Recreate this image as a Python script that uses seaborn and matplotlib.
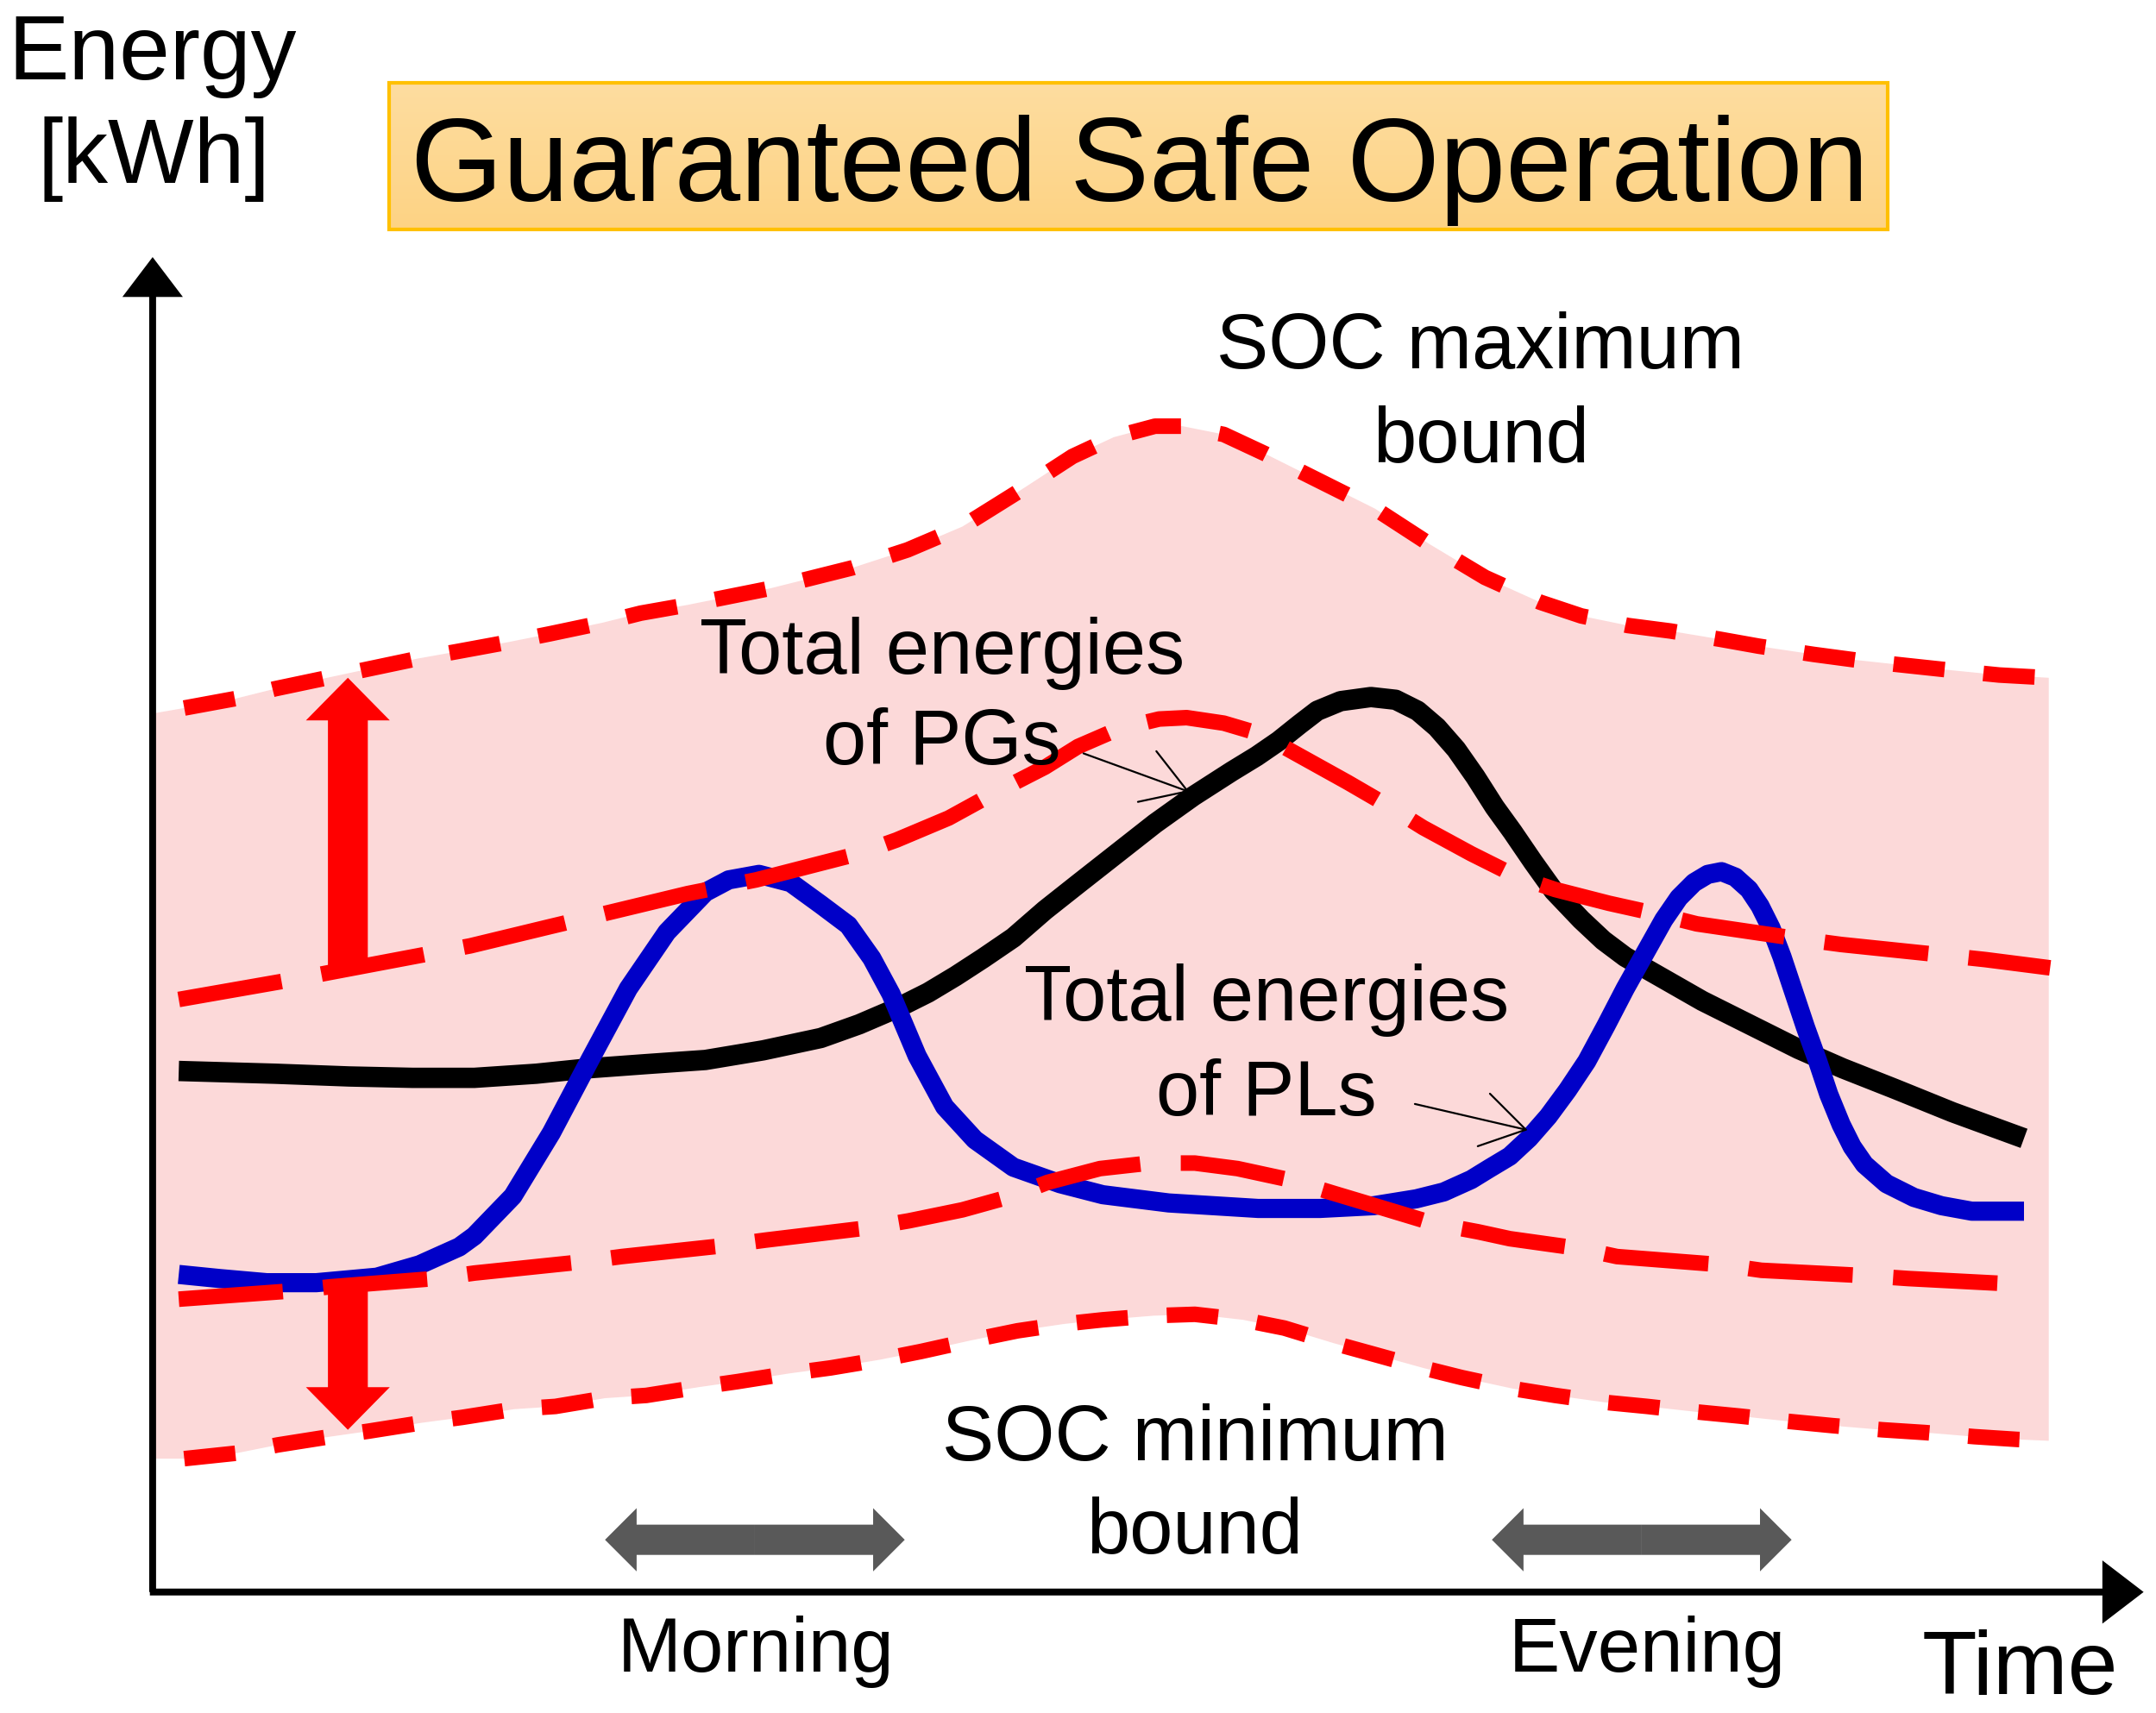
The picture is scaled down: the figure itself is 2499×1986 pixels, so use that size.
import numpy as np
import matplotlib
matplotlib.use("Agg")
import matplotlib.pyplot as plt
from matplotlib.patches import FancyArrow, Rectangle, Polygon
from matplotlib.colors import to_rgb
import seaborn as sns

# SOC maximum bound (upper edge of the safe band)
soc_max_x = [111, 134, 172, 200, 238, 266, 304, 332, 370, 400, 438, 466, 500, 560, 620, 660,
             700, 740, 780, 810, 840, 860, 890, 920, 960, 1000, 1040, 1080, 1120, 1150, 1184,
             1215, 1251, 1279, 1319, 1349, 1386, 1414, 1454, 1490]
soc_max_y = [519, 515, 508, 501, 493, 487, 479, 474, 467, 461, 453, 446, 440, 428, 413, 400,
             383, 358, 332, 318, 310, 310, 316, 330, 350, 370, 396, 420, 438, 448, 455,
             459, 465, 470, 476, 480, 484, 487, 491, 493]

# SOC minimum bound (lower edge of the safe band)
soc_min_x = [111, 134, 172, 202, 240, 268, 306, 336, 374, 404, 440, 470, 508, 536, 574, 604,
             640, 670, 706, 740, 774, 802, 839, 869, 904, 934, 970, 999, 1035, 1063, 1100,
             1131, 1167, 1198, 1234, 1265, 1302, 1333, 1369, 1400, 1436, 1467, 1490]
soc_min_y = [1061, 1061, 1057, 1051, 1045, 1041, 1035, 1031, 1025, 1023, 1017, 1015, 1009, 1005,
             999, 995, 989, 983, 975, 968, 963, 960, 957, 956, 960, 966, 977, 985, 995, 1002,
             1010, 1015, 1020, 1023, 1027, 1030, 1034, 1037, 1040, 1042, 1045, 1047, 1048]

# dashed band around total energies of PGs (upper) and PLs (lower)
pg_x = [130, 210, 300, 342, 400, 446, 500, 550, 624, 652, 690, 721, 760, 784, 814, 843, 863,
        890, 917, 944, 980, 1011, 1035, 1070, 1104, 1131, 1170, 1206, 1234, 1309, 1339, 1416,
        1444, 1491]
pg_y = [727, 713, 696, 688, 674, 663, 650, 640, 621, 611, 595, 578, 558, 543, 530, 523, 522,
        526, 534, 549, 569, 587, 602, 621, 638, 647, 657, 665, 672, 683, 687, 695,
        698, 704]

pl_x = [130, 212, 240, 316, 345, 422, 452, 527, 557, 632, 661, 700, 736, 762, 800, 836, 869,
        900, 937, 970, 1000, 1043, 1075, 1098, 1148, 1176, 1253, 1281, 1359, 1388, 1465]
pl_y = [945, 939, 936, 930, 926, 918, 914, 906, 902, 893, 888, 880, 870, 860, 850, 846, 846,
        850, 858, 868, 877, 890, 896, 901, 908, 914, 920, 924, 928, 930, 934]

# total energy of PGs (black)
black_x = [130, 200, 254, 300, 345, 390, 429, 470, 513, 555, 597, 625, 653, 675, 695, 715, 737,
           760, 784, 812, 840, 868, 896, 914, 930, 945, 958, 975, 997, 1015, 1031, 1045, 1059,
           1073, 1087, 1100, 1115, 1130, 1150, 1166, 1182, 1210, 1238, 1270, 1308, 1340, 1378,
           1420, 1472]
black_y = [779, 781, 783, 784, 784, 781, 777, 774, 771, 764, 755, 745, 733, 722, 710, 697, 682,
           662, 643, 621, 599, 579, 561, 550, 539, 527, 517, 510, 507, 509, 517, 529, 545,
           565, 587, 605, 627, 648, 669, 684, 696, 712, 728, 744, 763, 777, 792,
           809, 828]

# total energy of PLs (blue)
blue_x = [130, 160, 194, 230, 274, 305, 334, 345, 373, 401, 429, 457, 485, 513, 530, 552, 575,
          597, 617, 634, 648, 667, 687, 709, 737, 771, 802, 850, 915, 960, 999, 1030, 1050,
          1070, 1083, 1098, 1112, 1126, 1140, 1154, 1168, 1182, 1196, 1210, 1221, 1232, 1242,
          1252, 1262, 1272, 1280, 1288, 1296, 1305, 1313, 1322, 1330, 1339, 1347, 1356, 1372,
          1392, 1412, 1434, 1472]
blue_y = [927, 930, 933, 933, 929, 920, 907, 899, 870, 824, 771, 719, 678, 649, 640, 636, 642,
          658, 673, 697, 723, 768, 805, 829, 849, 861, 869, 875, 879, 879, 877, 872, 867,
          858, 850, 841, 828, 812, 793, 772, 746, 719, 694, 669, 653, 642, 636,
          634, 638, 647, 659, 675, 696, 723, 747, 772, 796, 818, 834, 847, 861,
          871, 877, 881, 881]

RED = "#FF0000"
BLUE = "#0000C8"
PINK = "#FCD9D9"
GRAY = "#595959"

sns.set_style("white")
plt.rcParams['font.family'] = ['Liberation Sans', 'DejaVu Sans']
plt.rcParams['text.color'] = 'black'

fig = plt.figure(figsize=(24.99, 19.86), dpi=100)
ax = fig.add_axes([0, 0, 1, 1])

# safe band
band = np.column_stack([soc_max_x + soc_min_x[::-1], soc_max_y + soc_min_y[::-1]])
ax.add_patch(Polygon(band, closed=True, facecolor=PINK, edgecolor="none", zorder=1))

# energy curves
sns.lineplot(x=black_x, y=black_y, color="black", linewidth=17, sort=False,
             estimator=None, ax=ax, zorder=3)
sns.lineplot(x=blue_x, y=blue_y, color=BLUE, linewidth=16, sort=False,
             estimator=None, ax=ax, zorder=4)
for ln in ax.lines:
    ln.set_solid_capstyle("butt")
    ln.set_solid_joinstyle("round")


def dashed(xs, ys, pattern):
    xs = np.asarray(xs)
    ys = np.asarray(ys)
    keep = xs >= 128
    sns.lineplot(x=xs[keep], y=ys[keep], color=RED, linewidth=13, sort=False,
                 estimator=None, ax=ax, zorder=5)
    ax.lines[-1].set_dashes(pattern)
    ax.lines[-1].set_dash_joinstyle("round")


dashed(pg_x, pg_y, [6.7, 2.6])
dashed(pl_x, pl_y, [6.7, 2.6])
dashed(soc_max_x, soc_max_y, [3.3, 2.5])
dashed(soc_min_x, soc_min_y, [3.3, 2.5])

# red margin arrows
ax.add_patch(FancyArrow(253, 703, 0, -210, width=29, head_width=61, head_length=31,
                        length_includes_head=True, color=RED, lw=0, zorder=6))
ax.add_patch(FancyArrow(253, 931, 0, 109, width=29, head_width=61, head_length=31,
                        length_includes_head=True, color=RED, lw=0, zorder=6))

# morning / evening spans
for cx in (549, 1194):
    for d in (-1, 1):
        ax.add_patch(FancyArrow(cx, 1120, d * 109, 0, width=22, head_width=46, head_length=23,
                                length_includes_head=True, color=GRAY, lw=0, zorder=6))

# axes with arrow heads
ax.add_patch(FancyArrow(111, 1158, 0, 187 - 1158, width=5, head_width=44, head_length=29,
                        length_includes_head=True, color="black", lw=0, zorder=7))
ax.add_patch(FancyArrow(109, 1158, 1559 - 109, 0, width=5, head_width=46, head_length=30,
                        length_includes_head=True, color="black", lw=0, zorder=7))

# title box with a soft vertical gradient
top_c = np.array(to_rgb("#FEDDA0"))
bot_c = np.array(to_rgb("#FDD384"))
t = np.linspace(0, 1, 128)[:, None, None]
grad = top_c * (1 - t) + bot_c * t
ax.imshow(grad, extent=(283, 1373, 167, 60), aspect="auto", zorder=2, interpolation="bilinear")
ax.add_patch(Rectangle((283, 60), 1090, 107, facecolor="none", edgecolor="#FFC000",
                       lw=3, zorder=2.5))
ax.text(829, 146, "Guaranteed Safe Operation", ha="center", va="baseline", fontsize=99, zorder=8)

# labels
ax.text(111, 58, "Energy", ha="center", va="baseline", fontsize=76)
ax.text(112, 133, "[kWh]", ha="center", va="baseline", fontsize=76)
ax.text(1398, 1232, "Time", ha="left", va="baseline", fontsize=75)
ax.text(1077, 268, "SOC maximum", ha="center", va="baseline", fontsize=65)
ax.text(1077, 336, "bound", ha="center", va="baseline", fontsize=65)
ax.text(869, 1062, "SOC minimum", ha="center", va="baseline", fontsize=65)
ax.text(869, 1130, "bound", ha="center", va="baseline", fontsize=65)
ax.text(685, 490, "Total energies", ha="center", va="baseline", fontsize=65, zorder=8)
ax.text(685, 556, "of PGs", ha="center", va="baseline", fontsize=65, zorder=8)
ax.text(921, 742, "Total energies", ha="center", va="baseline", fontsize=65, zorder=8)
ax.text(921, 811, "of PLs", ha="center", va="baseline", fontsize=65, zorder=8)
ax.text(550, 1216, "Morning", ha="center", va="baseline", fontsize=64)
ax.text(1198, 1216, "Evening", ha="center", va="baseline", fontsize=64)

# pointer arrows
pointer = dict(arrowstyle="->,head_length=0.4,head_width=0.25", lw=1.6, color="black",
               mutation_scale=90, shrinkA=0, shrinkB=0)
ax.annotate("", xy=(865, 576), xytext=(788, 548), arrowprops=pointer, zorder=9)
ax.annotate("", xy=(1111, 822), xytext=(1029, 803), arrowprops=pointer, zorder=9)

ax.set_xlim(0, 1568)
ax.set_ylim(1246, 0)
ax.axis("off")

fig.savefig("out.png", dpi=100)
